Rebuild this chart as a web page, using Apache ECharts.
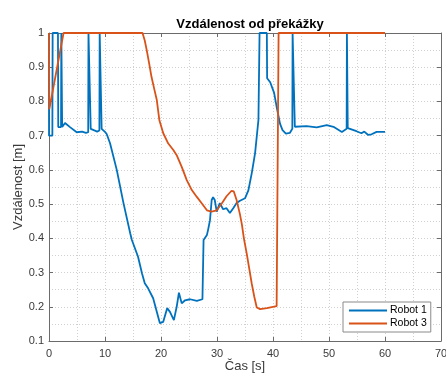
<!DOCTYPE html>
<html>
<head>
<meta charset="utf-8">
<script src="https://cdn.jsdelivr.net/npm/echarts@6/dist/echarts.min.js"></script>
<style>
  html, body { margin: 0; padding: 0; background: #fff; }
  #chart { width: 446px; height: 376px; }
</style>
</head>
<body>
<div id="chart"></div>
<script>
// Robot 1 – time [s] and distance [m]
const robot1Time = [
  0, 0, 0.6, 0.65, 1.6, 1.65, 2.15, 2.2, 2.3, 2.35,
  2.86, 3.75, 4.95, 5.9, 6.6, 7.0, 7.05, 7.4, 7.45, 8.0,
  8.6, 9.0, 9.05, 9.35, 9.4, 9.6, 10.0, 10.3, 10.9, 12.1,
  13.3, 14.5, 14.8, 15.9, 16.6, 17.1, 17.7, 18.6, 19.8, 20.4,
  21.1, 21.6, 22.3, 22.8, 23.2, 23.7, 24.3, 25.2, 26.4, 27.4,
  27.55, 27.6, 27.9, 28.2, 28.4, 28.75, 29.05, 29.3, 29.6, 29.95,
  30.5, 31.1, 31.7, 32.3, 32.9, 33.5, 34.1, 35.0, 35.6, 36.2,
  36.8, 37.4, 37.6, 38.9, 38.95, 39.5, 40.2, 40.7, 41.25, 41.7,
  42.3, 43.0, 43.45, 43.5, 43.85, 43.9, 44.2, 46.0, 47.8, 49.6,
  50.8, 52.3, 53.15, 53.2, 53.3, 53.35, 53.75, 54.9, 55.8, 56.3,
  57.0, 57.6, 58.5, 59.4, 60.0
];
const robot1Dist = [
  1, 0.7, 0.7, 1, 1, 0.725, 0.725, 1, 1, 0.725,
  0.737, 0.725, 0.71, 0.712, 0.708, 0.71, 1, 1, 0.72, 0.716,
  0.712, 0.715, 1, 1, 0.72, 0.716, 0.711, 0.705, 0.678, 0.6,
  0.503, 0.415, 0.395, 0.346, 0.298, 0.269, 0.254, 0.225, 0.152, 0.156,
  0.196, 0.185, 0.161, 0.2, 0.241, 0.21, 0.219, 0.222, 0.217, 0.222,
  0.225, 0.395, 0.39, 0.41, 0.424, 0.453, 0.512, 0.52, 0.512, 0.478,
  0.503, 0.485, 0.488, 0.474, 0.488, 0.503, 0.51, 0.517, 0.54, 0.59,
  0.649, 0.746, 1, 1, 0.868, 0.856, 0.825, 0.78, 0.735, 0.716,
  0.706, 0.708, 0.72, 1, 1, 0.726, 0.726, 0.728, 0.724, 0.731,
  0.726, 0.711, 0.72, 1, 1, 0.722, 0.72, 0.713, 0.707, 0.712,
  0.702, 0.704, 0.711, 0.711, 0.711
];

// Robot 3 – time [s] and distance [m]
const robot3Time = [
  0, 0.05, 2.6, 16.7, 17.1, 17.45, 17.9, 18.3, 18.8, 19.25,
  19.7, 20.4, 21.3, 22.2, 22.8, 23.7, 24.6, 25.5, 26.4, 27.3,
  28.2, 29.05, 29.95, 30.85, 31.7, 32.6, 33.0, 33.5, 34.1, 34.45,
  34.8, 35.3, 35.75, 36.2, 36.65, 37.1, 37.7, 38.9, 40.65, 40.95,
  41.0, 60.0
];
const robot3Dist = [
  1, 0.777, 1, 1, 0.978, 0.95, 0.91, 0.872, 0.836, 0.804,
  0.746, 0.707, 0.677, 0.658, 0.643, 0.609, 0.57, 0.541, 0.521, 0.502,
  0.482, 0.478, 0.482, 0.502, 0.523, 0.539, 0.537, 0.512, 0.47, 0.44,
  0.40, 0.356, 0.312, 0.268, 0.23, 0.198, 0.193, 0.196, 0.202, 0.205,
  1, 1
];

const xTicks = { min: 0, max: 70, step: 10 };
const yTicks = { min: 0.1, max: 1, step: 0.1 };

const seriesNames = ['Robot 1', 'Robot 3'];
const seriesColors = ['#0072BD', '#D95319'];

const zip = (t, v) => t.map((x, i) => [x, v[i]]);

const FONT = 'Liberation Sans, Arial, Helvetica, sans-serif';
const AXIS_COLOR = '#6b6b6b';
const TEXT_COLOR = '#3a3a3a';
const GRID_COLOR = '#d0d0d0';

const baseAxis = {
  axisLine: { show: true, onZero: false, lineStyle: { color: AXIS_COLOR, width: 1 } },
  axisTick: { show: true, inside: true, length: 4, lineStyle: { color: AXIS_COLOR } },
  splitLine: { show: true, lineStyle: { color: GRID_COLOR, type: [1, 2], width: 1 } },
  minorSplitLine: { show: true, lineStyle: { color: GRID_COLOR, type: [1, 2], width: 1 } }
};

const chart = echarts.init(document.getElementById('chart'), null, { renderer: 'canvas' });

chart.setOption({
  animation: false,
  backgroundColor: '#ffffff',
  title: {
    text: 'Vzdálenost od překážky',
    left: 245,
    top: 13,
    textAlign: 'center',
    textStyle: { fontFamily: FONT, fontSize: 13, fontWeight: 'bold', color: '#000' }
  },
  grid: {
    left: 49, top: 33, width: 392, height: 308,
    containLabel: false,
    outerBoundsMode: 'none'
  },
  legend: {
    data: seriesNames,
    orient: 'vertical',
    left: 343,
    top: 302,
    backgroundColor: '#ffffff',
    borderColor: '#8a8a8a',
    borderWidth: 1,
    padding: [3, 4, 3, 6],
    itemGap: 2,
    itemWidth: 38,
    itemHeight: 2,
    icon: 'rect',
    textStyle: { fontFamily: FONT, fontSize: 10.5, color: '#000', padding: [0, 0, 0, -2] }
  },
  xAxis: [
    Object.assign({}, baseAxis, {
      type: 'value',
      min: xTicks.min, max: xTicks.max, interval: xTicks.step,
      position: 'bottom',
      minorTick: { show: false, splitNumber: 2 },
      axisLabel: { margin: 7, fontFamily: FONT, fontSize: 11, color: TEXT_COLOR },
      name: 'Čas [s]',
      nameLocation: 'middle',
      nameGap: 19,
      nameMoveOverlap: false,
      nameTextStyle: { fontFamily: FONT, fontSize: 13, color: TEXT_COLOR }
    }),
    {
      type: 'value',
      min: xTicks.min, max: xTicks.max, interval: xTicks.step,
      position: 'top',
      axisLine: { show: true, onZero: false, lineStyle: { color: AXIS_COLOR, width: 1 } },
      axisTick: { show: true, inside: true, length: 4, lineStyle: { color: AXIS_COLOR } },
      axisLabel: { show: false },
      splitLine: { show: false }
    }
  ],
  yAxis: [
    Object.assign({}, baseAxis, {
      type: 'value',
      min: yTicks.min, max: yTicks.max, interval: yTicks.step,
      position: 'left',
      minorTick: { show: false, splitNumber: 2 },
      axisLabel: {
        margin: 5, fontFamily: FONT, fontSize: 11, color: TEXT_COLOR,
        formatter: v => String(Math.round(v * 10) / 10)
      },
      name: 'Vzdálenost [m]',
      nameLocation: 'middle',
      nameGap: 24,
      nameMoveOverlap: false,
      nameTextStyle: { fontFamily: FONT, fontSize: 13, color: TEXT_COLOR }
    }),
    {
      type: 'value',
      min: yTicks.min, max: yTicks.max, interval: yTicks.step,
      position: 'right',
      axisLine: { show: true, onZero: false, lineStyle: { color: AXIS_COLOR, width: 1 } },
      axisTick: { show: true, inside: true, length: 4, lineStyle: { color: AXIS_COLOR } },
      axisLabel: { show: false },
      splitLine: { show: false }
    }
  ],
  series: [
    {
      name: seriesNames[0],
      type: 'line',
      data: zip(robot1Time, robot1Dist),
      symbol: 'none',
      clip: true,
      color: seriesColors[0],
      lineStyle: { width: 1.8, color: seriesColors[0] },
      z: 3
    },
    {
      name: seriesNames[1],
      type: 'line',
      data: zip(robot3Time, robot3Dist),
      symbol: 'none',
      clip: true,
      color: seriesColors[1],
      lineStyle: { width: 1.8, color: seriesColors[1] },
      z: 4
    }
  ]
});
</script>
</body>
</html>
